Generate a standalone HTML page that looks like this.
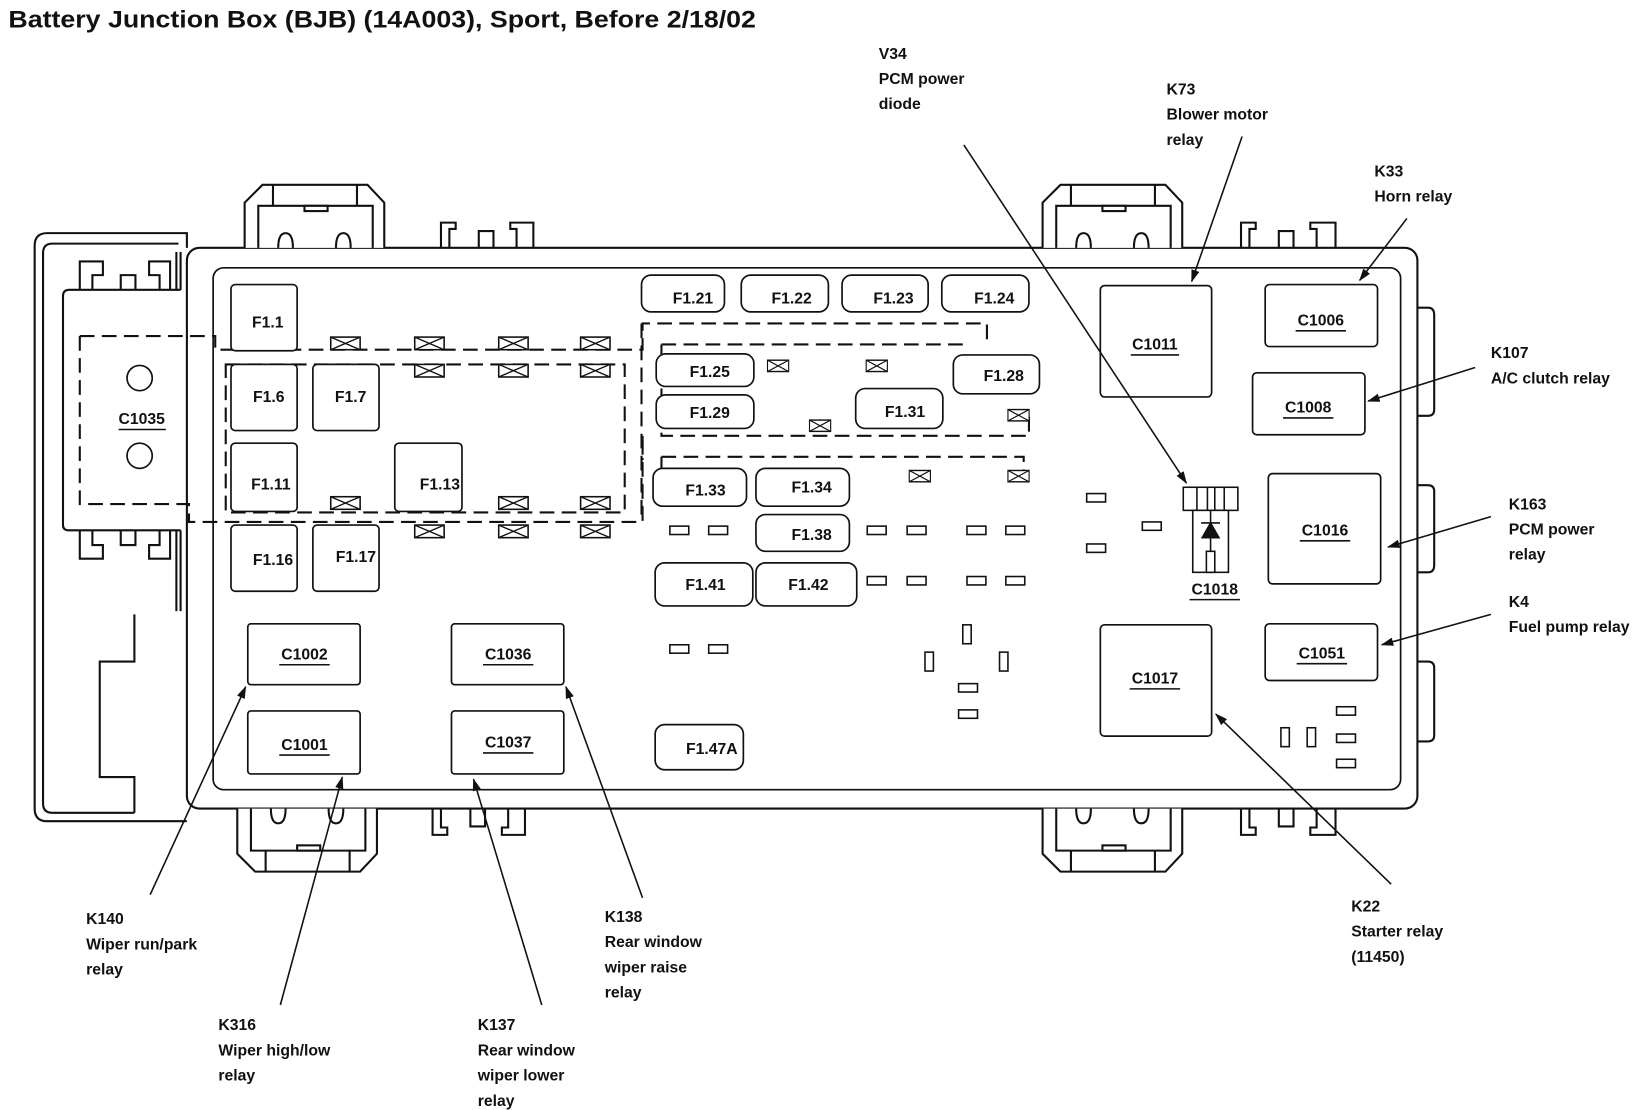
<!DOCTYPE html>
<html><head><meta charset="utf-8"><style>
html,body{margin:0;padding:0;background:#fff;}
svg{display:block;}
text{font-family:"Liberation Sans",Arial,sans-serif;font-weight:bold;fill:#111;}
.t{font-size:15px;}
.f{font-size:15px;}
</style></head><body>
<svg width="1640" height="1110" viewBox="0 0 1562 1057" preserveAspectRatio="none" xmlns="http://www.w3.org/2000/svg">
<defs>
<marker id="ah" markerWidth="12" markerHeight="8" refX="11" refY="4" orient="auto" markerUnits="userSpaceOnUse">
<path d="M0,0 L12,4 L0,8 Z" fill="#111"/></marker>
<g id="xb"><rect x="0" y="0" width="28" height="12" fill="#fff" stroke="#111" stroke-width="1.5"/><path d="M0,0 L28,12 M0,12 L28,0" stroke="#111" stroke-width="1.3"/></g>
<g id="sr"><rect x="0" y="0" width="18" height="8" fill="#fff" stroke="#111" stroke-width="1.5"/></g>
<g id="vr"><rect x="0" y="0" width="8" height="18" fill="#fff" stroke="#111" stroke-width="1.5"/></g>
</defs>
<text x="8" y="26" style="font-size:23px" textLength="712" lengthAdjust="spacingAndGlyphs">Battery Junction Box (BJB) (14A003), Sport, Before 2/18/02</text>

<g fill="none" stroke="#111" stroke-width="2">
<path d="M178,236 L178,222 L45,222 Q33,222 33,234 L33,770 Q33,782 45,782 L178,782"/>
<path d="M170,232 L50,232 Q41,232 41,241 L41,765 Q41,774 50,774 L128,774"/>
<path d="M128,585 L128,630 L95,630 L95,740 L128,740 L128,774"/>
<path d="M60,282 L60,500 Q60,505 66,505 L172,505 M60,282 Q60,276 66,276 L172,276"/>
<path d="M168,240 L168,276 M172,240 L172,276 M168,505 L168,582 M172,505 L172,582"/>
<rect x="178" y="236" width="1172" height="534" rx="12"/>
<rect x="203" y="255" width="1131" height="497" rx="10" stroke-width="1.6"/>
<path d="M1350,293 L1360,293 Q1366,293 1366,300 L1366,390 Q1366,396 1360,396 L1350,396"/>
<path d="M1350,462 L1360,462 Q1366,462 1366,468 L1366,538 Q1366,545 1360,545 L1350,545"/>
<path d="M1350,630 L1360,630 Q1366,630 1366,636 L1366,700 Q1366,706 1360,706 L1350,706"/>
<path d="M76,276 L76,249 L98,249 L98,262 L88,262 L88,276 M115,276 L115,262 L129,262 L129,276 M152,276 L152,262 L142,262 L142,249 L162,249 L162,276"/>
<path d="M76,505 L76,532 L98,532 L98,519 L88,519 L88,505 M115,505 L115,519 L129,519 L129,505 M152,505 L152,519 L142,519 L142,532 L162,532 L162,505"/>
</g>

<g fill="#fff" stroke="#111" stroke-width="2">
<g id="tc">
<path d="M233,236 L233,193 L250,176 L350,176 L366,193 L366,236"/>
<path d="M246,236 L246,196 L355,196 L355,236 M260,176 L260,196 M340,176 L340,196" fill="none"/>
<path d="M265,236 Q265,222 272,222 Q279,222 279,236 M320,236 Q320,222 327,222 Q334,222 334,236" fill="none"/>
<rect x="290" y="196" width="22" height="5"/>
</g>
<use href="#tc" transform="translate(760,0)"/>
<g transform="translate(0,1006) scale(1,-1)"><use href="#tc" transform="translate(-7,0)"/><use href="#tc" transform="translate(760,0)"/></g>
<path d="M420,236 L420,212 L434,212 L434,218 L428,218 L428,236 M456,236 L456,220 L470,220 L470,236 M492,236 L492,218 L486,218 L486,212 L508,212 L508,236" fill="none"/>
<path d="M1182,236 L1182,212 L1196,212 L1196,218 L1190,218 L1190,236 M1218,236 L1218,220 L1232,220 L1232,236 M1254,236 L1254,218 L1248,218 L1248,212 L1272,212 L1272,236" fill="none"/>
<path d="M412,770 L412,795 L426,795 L426,788 L420,788 L420,770 M448,770 L448,787 L462,787 L462,770 M484,770 L484,788 L478,788 L478,795 L500,795 L500,770" fill="none"/>
<path d="M1182,770 L1182,795 L1196,795 L1196,788 L1190,788 L1190,770 M1218,770 L1218,787 L1232,787 L1232,770 M1254,770 L1254,788 L1248,788 L1248,795 L1272,795 L1272,770" fill="none"/>
</g>

<g fill="none" stroke="#111" stroke-width="2" stroke-dasharray="14,7">
<path d="M76,320 L205,320 L205,333 L612,333 L612,308 L940,308 L940,330"/>
<path d="M76,320 L76,480 L180,480 L180,497 L612,497 L612,415"/>
<path d="M215,347 L595,347 L595,488 L215,488 Z"/>
<path d="M611,308 L611,497"/>
<path d="M630,328 L920,328 M630,328 L630,415 L980,415 L980,390"/>
<path d="M630,435 L975,435 L975,455 M630,435 L630,460"/>
<path d="M612,415 L612,438"/>
</g>
<circle cx="133" cy="360" r="12" fill="none" stroke="#111" stroke-width="1.6"/>
<circle cx="133" cy="434" r="12" fill="none" stroke="#111" stroke-width="1.6"/>
<text x="135" y="404" class="f" text-anchor="middle">C1035</text>
<line x1="113" y1="409" x2="158" y2="409" stroke="#111" stroke-width="1.5"/>

<g fill="#fff" stroke="#111" stroke-width="1.6">
<rect x="220" y="271" width="63" height="63" rx="4"/>
<rect x="220" y="347" width="63" height="63" rx="4"/>
<rect x="298" y="347" width="63" height="63" rx="4"/>
<rect x="220" y="422" width="63" height="65" rx="4"/>
<rect x="376" y="422" width="64" height="65" rx="4"/>
<rect x="220" y="500" width="63" height="63" rx="4"/>
<rect x="298" y="500" width="63" height="63" rx="4"/>
</g>
<g class="f">
<text x="255" y="312" text-anchor="middle">F1.1</text>
<text x="256" y="383" text-anchor="middle">F1.6</text>
<text x="334" y="383" text-anchor="middle">F1.7</text>
<text x="258" y="466" text-anchor="middle">F1.11</text>
<text x="419" y="466" text-anchor="middle">F1.13</text>
<text x="260" y="538" text-anchor="middle">F1.16</text>
<text x="339" y="535" text-anchor="middle">F1.17</text>
</g>
<g>
<use href="#xb" x="315" y="321"/><use href="#xb" x="395" y="321"/><use href="#xb" x="475" y="321"/><use href="#xb" x="553" y="321"/>
<use href="#xb" x="395" y="347"/><use href="#xb" x="475" y="347"/><use href="#xb" x="553" y="347"/>
<use href="#xb" x="315" y="473"/><use href="#xb" x="475" y="473"/><use href="#xb" x="553" y="473"/>
<use href="#xb" x="395" y="500"/><use href="#xb" x="475" y="500"/><use href="#xb" x="553" y="500"/>
</g>

<g fill="#fff" stroke="#111" stroke-width="1.6">
<rect x="611" y="262" width="79" height="35" rx="9"/>
<rect x="706" y="262" width="83" height="35" rx="9"/>
<rect x="802" y="262" width="82" height="35" rx="9"/>
<rect x="897" y="262" width="83" height="35" rx="9"/>
<rect x="625" y="337" width="93" height="31" rx="9"/>
<rect x="908" y="338" width="82" height="37" rx="9"/>
<rect x="625" y="376" width="93" height="32" rx="9"/>
<rect x="815" y="370" width="83" height="38" rx="9"/>
<rect x="622" y="446" width="89" height="36" rx="9"/>
<rect x="720" y="446" width="89" height="36" rx="9"/>
<rect x="720" y="490" width="89" height="35" rx="9"/>
<rect x="624" y="536" width="93" height="41" rx="9"/>
<rect x="720" y="536" width="96" height="41" rx="9"/>
<rect x="624" y="690" width="84" height="43" rx="9"/>
</g>
<g class="f">
<text x="660" y="289" text-anchor="middle">F1.21</text>
<text x="754" y="289" text-anchor="middle">F1.22</text>
<text x="851" y="289" text-anchor="middle">F1.23</text>
<text x="947" y="289" text-anchor="middle">F1.24</text>
<text x="676" y="359" text-anchor="middle">F1.25</text>
<text x="956" y="363" text-anchor="middle">F1.28</text>
<text x="676" y="398" text-anchor="middle">F1.29</text>
<text x="862" y="397" text-anchor="middle">F1.31</text>
<text x="672" y="472" text-anchor="middle">F1.33</text>
<text x="773" y="469" text-anchor="middle">F1.34</text>
<text x="773" y="514" text-anchor="middle">F1.38</text>
<text x="672" y="562" text-anchor="middle">F1.41</text>
<text x="770" y="562" text-anchor="middle">F1.42</text>
<text x="678" y="718" text-anchor="middle">F1.47A</text>
</g>
<g>
<g transform="translate(731,343) scale(0.72,0.9)"><use href="#xb"/></g>
<g transform="translate(825,343) scale(0.72,0.9)"><use href="#xb"/></g>
<g transform="translate(771,400) scale(0.72,0.9)"><use href="#xb"/></g>
<g transform="translate(960,390) scale(0.72,0.9)"><use href="#xb"/></g>
<g transform="translate(866,448) scale(0.72,0.9)"><use href="#xb"/></g>
<g transform="translate(960,448) scale(0.72,0.9)"><use href="#xb"/></g>
</g>
<use href="#sr" x="638" y="501"/><use href="#sr" x="675" y="501"/>
<use href="#sr" x="826" y="501"/><use href="#sr" x="864" y="501"/><use href="#sr" x="921" y="501"/><use href="#sr" x="958" y="501"/>
<use href="#sr" x="826" y="549"/><use href="#sr" x="864" y="549"/><use href="#sr" x="921" y="549"/><use href="#sr" x="958" y="549"/>
<use href="#sr" x="638" y="614"/><use href="#sr" x="675" y="614"/>
<use href="#sr" x="1035" y="470"/><use href="#sr" x="1035" y="518"/><use href="#sr" x="1088" y="497"/>
<use href="#vr" x="917" y="595"/><use href="#vr" x="881" y="621"/><use href="#vr" x="952" y="621"/>
<use href="#sr" x="913" y="651"/><use href="#sr" x="913" y="676"/>
<use href="#sr" x="1273" y="673"/><use href="#sr" x="1273" y="699"/><use href="#sr" x="1273" y="723"/>
<use href="#vr" x="1220" y="693"/><use href="#vr" x="1245" y="693"/>

<g fill="#fff" stroke="#111" stroke-width="1.6">
<rect x="1048" y="272" width="106" height="106" rx="4"/>
<rect x="1205" y="271" width="107" height="59" rx="4"/>
<rect x="1193" y="355" width="107" height="59" rx="4"/>
<rect x="1208" y="451" width="107" height="105" rx="4"/>
<rect x="1048" y="595" width="106" height="106" rx="4"/>
<rect x="1205" y="594" width="107" height="54" rx="4"/>
<rect x="236" y="594" width="107" height="58" rx="3"/>
<rect x="430" y="594" width="107" height="58" rx="3"/>
<rect x="236" y="677" width="107" height="60" rx="3"/>
<rect x="430" y="677" width="107" height="60" rx="3"/>
</g>
<g class="f" text-anchor="middle">
<text x="1100" y="333">C1011</text>
<text x="1258" y="310">C1006</text>
<text x="1246" y="393">C1008</text>
<text x="1262" y="510">C1016</text>
<text x="1100" y="651">C1017</text>
<text x="1259" y="627">C1051</text>
<text x="290" y="628">C1002</text>
<text x="484" y="628">C1036</text>
<text x="290" y="714">C1001</text>
<text x="484" y="712">C1037</text>
<text x="1157" y="566">C1018</text>
</g>
<g stroke="#111" stroke-width="1.5">
<line x1="1077" y1="338" x2="1123" y2="338"/><line x1="1234" y1="315" x2="1282" y2="315"/>
<line x1="1222" y1="398" x2="1270" y2="398"/><line x1="1238" y1="515" x2="1286" y2="515"/>
<line x1="1076" y1="656" x2="1124" y2="656"/><line x1="1235" y1="632" x2="1283" y2="632"/>
<line x1="266" y1="633" x2="314" y2="633"/><line x1="460" y1="633" x2="508" y2="633"/>
<line x1="266" y1="719" x2="314" y2="719"/><line x1="460" y1="717" x2="508" y2="717"/>
<line x1="1133" y1="571" x2="1181" y2="571"/>
</g>
<g fill="#fff" stroke="#111" stroke-width="1.5">
<rect x="1127" y="464" width="52" height="22"/>
<rect x="1136" y="486" width="34" height="59"/>
<line x1="1140" y1="464" x2="1140" y2="486"/><line x1="1150" y1="464" x2="1150" y2="486"/>
<line x1="1157" y1="464" x2="1157" y2="486"/><line x1="1166" y1="464" x2="1166" y2="486"/>
<line x1="1153" y1="486" x2="1153" y2="525"/>
<path d="M1145,512 L1161,512 L1153,498 Z" fill="#111"/>
<line x1="1144" y1="498" x2="1162" y2="498"/>
<rect x="1149" y="525" width="8" height="20"/>
</g>

<g stroke="#111" stroke-width="1.5" fill="none" marker-end="url(#ah)">
<line x1="918" y1="138" x2="1130" y2="460"/>
<line x1="1183" y1="130" x2="1135" y2="268"/>
<line x1="1340" y1="208" x2="1295" y2="267"/>
<line x1="1405" y1="350" x2="1303" y2="382"/>
<line x1="1420" y1="492" x2="1322" y2="521"/>
<line x1="1420" y1="585" x2="1316" y2="614"/>
<line x1="1325" y1="842" x2="1158" y2="680"/>
<line x1="143" y1="852" x2="234" y2="654"/>
<line x1="267" y1="957" x2="326" y2="740"/>
<line x1="516" y1="957" x2="451" y2="742"/>
<line x1="612" y1="855" x2="539" y2="654"/>
</g>

<g class="t">
<text x="837" y="56">V34</text><text x="837" y="80">PCM power</text><text x="837" y="104">diode</text>
<text x="1111" y="90">K73</text><text x="1111" y="114">Blower motor</text><text x="1111" y="138">relay</text>
<text x="1309" y="168">K33</text><text x="1309" y="192">Horn relay</text>
<text x="1420" y="341">K107</text><text x="1420" y="365">A/C clutch relay</text>
<text x="1437" y="485">K163</text><text x="1437" y="509">PCM power</text><text x="1437" y="533">relay</text>
<text x="1437" y="578">K4</text><text x="1437" y="602">Fuel pump relay</text>
<text x="1287" y="868">K22</text><text x="1287" y="892">Starter relay</text><text x="1287" y="916">(11450)</text>
<text x="82" y="880">K140</text><text x="82" y="904">Wiper run/park</text><text x="82" y="928">relay</text>
<text x="208" y="981">K316</text><text x="208" y="1005">Wiper high/low</text><text x="208" y="1029">relay</text>
<text x="455" y="981">K137</text><text x="455" y="1005">Rear window</text><text x="455" y="1029">wiper lower</text><text x="455" y="1053">relay</text>
<text x="576" y="878">K138</text><text x="576" y="902">Rear window</text><text x="576" y="926">wiper raise</text><text x="576" y="950">relay</text>
</g>
</svg>
</body></html>
